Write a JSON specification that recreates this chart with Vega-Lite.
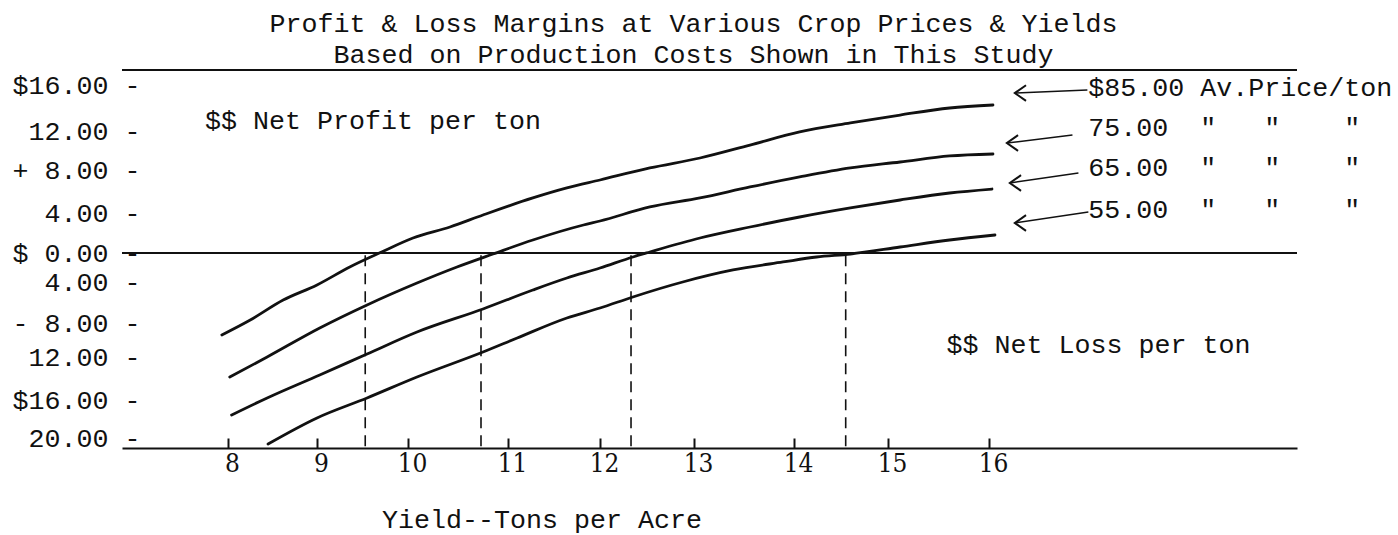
{
  "$schema": "https://vega.github.io/schema/vega-lite/v6.json",
  "width": 1175,
  "height": 378,
  "autosize": {"type": "none"},
  "padding": {"left": 122, "top": 70, "right": 101, "bottom": 87},
  "background": "white",
  "config": {"view": {"stroke": null}},
  "title": {
    "text": "Profit & Loss Margins at Various Crop Prices & Yields",
    "subtitle": "Based on Production Costs Shown in This Study",
    "font": "Liberation Mono, DejaVu Sans Mono, monospace",
    "fontSize": 26.67,
    "fontWeight": "normal",
    "color": "#111",
    "subtitleFont": "Liberation Mono, DejaVu Sans Mono, monospace",
    "subtitleFontSize": 26.67,
    "subtitleColor": "#111",
    "subtitlePadding": 5,
    "anchor": "middle",
    "frame": "group",
    "dx": -16,
    "offset": 0
  },
  "datasets": {
    "curves": [
      {"price": 85, "yield": 7.93, "margin": -9.41},
      {"price": 85, "yield": 8.25, "margin": -7.71},
      {"price": 85, "yield": 8.62, "margin": -5.76},
      {"price": 85, "yield": 9.0, "margin": -4.29},
      {"price": 85, "yield": 9.36, "margin": -1.93},
      {"price": 85, "yield": 9.71, "margin": 0.1},
      {"price": 85, "yield": 10.05, "margin": 1.5},
      {"price": 85, "yield": 10.42, "margin": 2.6},
      {"price": 85, "yield": 10.75, "margin": 3.8},
      {"price": 85, "yield": 11.27, "margin": 5.4},
      {"price": 85, "yield": 11.64, "margin": 6.33},
      {"price": 85, "yield": 12.0, "margin": 7.07},
      {"price": 85, "yield": 12.53, "margin": 8.21},
      {"price": 85, "yield": 13.06, "margin": 9.23},
      {"price": 85, "yield": 13.56, "margin": 10.56},
      {"price": 85, "yield": 14.06, "margin": 11.9},
      {"price": 85, "yield": 14.6, "margin": 12.7},
      {"price": 85, "yield": 15.12, "margin": 13.39},
      {"price": 85, "yield": 15.61, "margin": 14.0},
      {"price": 85, "yield": 16.04, "margin": 14.26},
      {"price": 75, "yield": 8.02, "margin": -13.86},
      {"price": 75, "yield": 8.44, "margin": -12.0},
      {"price": 75, "yield": 9.03, "margin": -8.59},
      {"price": 75, "yield": 9.55, "margin": -6.24},
      {"price": 75, "yield": 10.09, "margin": -4.1},
      {"price": 75, "yield": 10.49, "margin": -1.93},
      {"price": 75, "yield": 10.85, "margin": -0.14},
      {"price": 75, "yield": 11.27, "margin": 1.3},
      {"price": 75, "yield": 11.82, "margin": 2.8},
      {"price": 75, "yield": 12.0, "margin": 3.2},
      {"price": 75, "yield": 12.53, "margin": 4.56},
      {"price": 75, "yield": 13.06, "margin": 5.4},
      {"price": 75, "yield": 13.56, "margin": 6.42},
      {"price": 75, "yield": 14.06, "margin": 7.35},
      {"price": 75, "yield": 14.6, "margin": 8.21},
      {"price": 75, "yield": 15.12, "margin": 8.82},
      {"price": 75, "yield": 15.61, "margin": 9.44},
      {"price": 75, "yield": 16.04, "margin": 9.64},
      {"price": 65, "yield": 8.04, "margin": -17.58},
      {"price": 65, "yield": 8.44, "margin": -15.81},
      {"price": 65, "yield": 9.03, "margin": -13.67},
      {"price": 65, "yield": 9.55, "margin": -11.65},
      {"price": 65, "yield": 10.09, "margin": -9.06},
      {"price": 65, "yield": 10.75, "margin": -6.63},
      {"price": 65, "yield": 11.27, "margin": -4.78},
      {"price": 65, "yield": 11.64, "margin": -3.45},
      {"price": 65, "yield": 12.0, "margin": -2.07},
      {"price": 65, "yield": 12.35, "margin": -0.55},
      {"price": 65, "yield": 12.53, "margin": 0.1},
      {"price": 65, "yield": 13.06, "margin": 1.5},
      {"price": 65, "yield": 13.56, "margin": 2.6},
      {"price": 65, "yield": 14.06, "margin": 3.6},
      {"price": 65, "yield": 14.6, "margin": 4.47},
      {"price": 65, "yield": 15.12, "margin": 5.21},
      {"price": 65, "yield": 15.61, "margin": 5.86},
      {"price": 65, "yield": 16.03, "margin": 6.23},
      {"price": 55, "yield": 8.45, "margin": -20.63},
      {"price": 55, "yield": 9.0, "margin": -17.89},
      {"price": 55, "yield": 9.55, "margin": -15.81},
      {"price": 55, "yield": 10.09, "margin": -13.86},
      {"price": 55, "yield": 10.75, "margin": -11.41},
      {"price": 55, "yield": 11.1, "margin": -9.76},
      {"price": 55, "yield": 11.64, "margin": -7.51},
      {"price": 55, "yield": 12.0, "margin": -6.54},
      {"price": 55, "yield": 12.35, "margin": -5.46},
      {"price": 55, "yield": 12.88, "margin": -4.0},
      {"price": 55, "yield": 13.39, "margin": -2.34},
      {"price": 55, "yield": 13.89, "margin": -1.24},
      {"price": 55, "yield": 14.24, "margin": -0.55},
      {"price": 55, "yield": 14.6, "margin": -0.14},
      {"price": 55, "yield": 15.12, "margin": 0.6},
      {"price": 55, "yield": 15.61, "margin": 1.3},
      {"price": 55, "yield": 16.06, "margin": 1.8}
    ],
    "breakeven": [
      {"price": 85, "yield": 9.53},
      {"price": 75, "yield": 10.73},
      {"price": 65, "yield": 12.33},
      {"price": 55, "yield": 14.55}
    ],
    "arrows": [
      {"price": 85, "yield": 16.26, "margin": 15.3, "yield2": 16.99, "margin2": 15.57},
      {"price": 75, "yield": 16.18, "margin": 10.77, "yield2": 16.84, "margin2": 11.59},
      {"price": 65, "yield": 16.21, "margin": 6.79, "yield2": 16.9, "margin2": 7.72},
      {"price": 55, "yield": 16.26, "margin": 3.0, "yield2": 17.0, "margin2": 4.09}
    ],
    "labels": [
      {"label": "$$ Net Profit per ton", "yield": 7.74, "margin": 12.87},
      {"label": "$$ Net Loss per ton", "yield": 15.58, "margin": -10.59},
      {"label": "$85.00 Av.Price/ton", "yield": 17.0, "margin": 15.74},
      {"label": "\u00a075.00\u00a0\u00a0\"\u00a0\u00a0\u00a0\"\u00a0\u00a0\u00a0\u00a0\"", "yield": 17.0, "margin": 12.26},
      {"label": "\u00a065.00\u00a0\u00a0\"\u00a0\u00a0\u00a0\"\u00a0\u00a0\u00a0\u00a0\"", "yield": 17.0, "margin": 8.21},
      {"label": "\u00a055.00\u00a0\u00a0\"\u00a0\u00a0\u00a0\"\u00a0\u00a0\u00a0\u00a0\"", "yield": 17.0, "margin": 4.28}
    ]
  },
  "layer": [
    {
      "data": {"name": "curves"},
      "mark": {"type": "line", "color": "#111", "strokeWidth": 2.8, "interpolate": "monotone", "strokeCap": "round"},
      "encoding": {
        "x": {
          "field": "yield", "type": "quantitative",
          "scale": {"type": "linear", "domain": [6.8, 8, 9, 10, 11, 12, 13, 14, 15, 16, 19.1], "range": [0, 106, 195, 286, 386, 478, 572, 672, 766, 867, 1175], "nice": false, "zero": false},
          "axis": {
            "values": [8, 9, 10, 11, 12, 13, 14, 15, 16],
            "format": "d",
            "labelFont": "DejaVu Serif Condensed, DejaVu Serif, serif",
            "labelFontSize": 26,
            "labelColor": "#111",
            "labelOffset": 4,
            "labelPadding": 25,
            "labelBaseline": "middle",
            "labelFlush": false,
            "labelOverlap": false,
            "tickSize": -10,
            "tickWidth": 2,
            "tickColor": "#111",
            "domainColor": "#111",
            "domainWidth": 2,
            "grid": false,
            "title": "Yield--Tons per Acre",
            "titleFont": "Liberation Mono, DejaVu Sans Mono, monospace",
            "titleFontSize": 26.67,
            "titleFontWeight": "normal",
            "titleColor": "#111",
            "titleX": 419.5,
            "titleY": 71,
            "titleBaseline": "middle",
            "titleAlign": "center"
          }
        },
        "y": {
          "field": "margin", "type": "quantitative",
          "scale": {"type": "linear", "domain": [-21.05, -20, -16, -12, -8, -4, 0, 4, 8, 12, 16, 17.3], "range": [378, 368, 330, 287, 253, 212, 183, 143, 100, 61, 15, 0], "nice": false, "zero": false},
          "axis": {
            "values": [-20, -16, -12, -8, -4, 0, 4, 8, 12, 16],
            "labelExpr": "datum.value == 16 ? '$16.00 -' : datum.value == 12 ? '12.00 -' : datum.value == 8 ? '+ 8.00 -' : datum.value == 4 ? '4.00 -' : datum.value == 0 ? '$ 0.00 -' : datum.value == -4 ? '4.00 -' : datum.value == -8 ? '- 8.00 -' : datum.value == -12 ? '12.00 -' : datum.value == -16 ? '$16.00 -' : '20.00 -'",
            "labelFont": "Liberation Mono, DejaVu Sans Mono, monospace",
            "labelFontSize": 26.67,
            "labelColor": "#111",
            "labelAlign": "right",
            "labelBaseline": "middle",
            "labelPadding": 0,
            "labelFlush": false,
            "labelOverlap": false,
            "ticks": false,
            "domain": false,
            "grid": false,
            "title": null,
            "offset": -18
          }
        },
        "detail": {"field": "price", "type": "nominal"}
      }
    },
    {
      "data": {"values": [{"line": "top"}]},
      "mark": {"type": "rule", "color": "#111", "strokeWidth": 2},
      "encoding": {
        "y": {"datum": 17.3, "type": "quantitative"}
      }
    },
    {
      "data": {"values": [{"line": "zero"}]},
      "mark": {"type": "rule", "color": "#111", "strokeWidth": 2},
      "encoding": {
        "y": {"datum": 0, "type": "quantitative"}
      }
    },
    {
      "data": {"name": "breakeven"},
      "mark": {"type": "rule", "color": "#111", "strokeWidth": 1.6, "strokeDash": [11, 7]},
      "encoding": {
        "x": {"field": "yield", "type": "quantitative"},
        "y": {"datum": -0.3, "type": "quantitative"},
        "y2": {"datum": -21.05}
      }
    },
    {
      "data": {"name": "arrows"},
      "mark": {"type": "rule", "color": "#111", "strokeWidth": 1.5},
      "encoding": {
        "x": {"field": "yield", "type": "quantitative"},
        "y": {"field": "margin", "type": "quantitative"},
        "x2": {"field": "yield2"},
        "y2": {"field": "margin2"}
      }
    },
    {
      "data": {"name": "arrows"},
      "mark": {"type": "point", "shape": "M1,-0.7L0,0L1,0.7", "size": 500, "filled": false, "stroke": "#111", "strokeWidth": 2, "opacity": 1},
      "encoding": {
        "x": {"field": "yield", "type": "quantitative"},
        "y": {"field": "margin", "type": "quantitative"}
      }
    },
    {
      "data": {"name": "labels"},
      "mark": {"type": "text", "align": "left", "baseline": "middle", "font": "Liberation Mono, DejaVu Sans Mono, monospace", "fontSize": 26.67, "color": "#111"},
      "encoding": {
        "x": {"field": "yield", "type": "quantitative"},
        "y": {"field": "margin", "type": "quantitative"},
        "text": {"field": "label"}
      }
    }
  ]
}
